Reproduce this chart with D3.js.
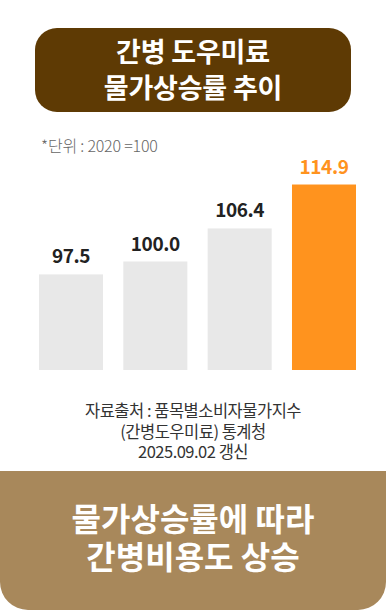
<!DOCTYPE html>
<html>
<head>
<meta charset="utf-8">
<script src="https://cdn.jsdelivr.net/npm/d3@7"></script>
<style>
  html, body { margin: 0; padding: 0; background: #fff; }
  svg { display: block; font-family: "Noto Sans CJK KR", "Noto Sans", sans-serif; }
</style>
</head>
<body>
<div id="chart"></div>
<script>
// data
const categories = ['2019', '2020', '2023', '2025']
const values = [97.5, 100.0, 106.4, 114.9]
const highlight = [false, false, false, true]

const titleLines = ['간병 도우미료', '물가상승률 추이']
const unitLabel = '*단위 : 2020 =100'
const sourceLines = ['자료출처 : 품목별소비자물가지수', '(간병도우미료) 통계청', '2025.09.02 갱신']
const footerLines = ['물가상승률에 따라', '간병비용도 상승']

const W = 386
const H = 610

const svg = d3.select('#chart')
  .append('svg')
  .attr('width', W)
  .attr('height', H)

// title box
svg.append('rect')
  .attr('x', 35)
  .attr('y', 28)
  .attr('width', 316)
  .attr('height', 84)
  .attr('rx', 22)
  .attr('fill', '#5e3a04')

svg.selectAll('.title')
  .data(titleLines)
  .enter()
  .append('text')
  .attr('class', 'title')
  .attr('x', 193)
  .attr('y', (d, i) => 62 + i * 36)
  .attr('text-anchor', 'middle')
  .attr('fill', '#fff')
  .style('font-size', '27px')
  .style('font-weight', 700)
  .style('letter-spacing', '-0.2px')
  .text(d => d)

svg.append('text')
  .attr('x', 41)
  .attr('y', 152)
  .attr('fill', '#666')
  .style('font-size', '16px')
  .style('font-weight', 300)
  .style('letter-spacing', '-0.2px')
  .text(unitLabel)

// bars
const x = d3.scaleBand()
  .domain(categories)
  .range([39, 356])
  .paddingInner(0.241)
  .paddingOuter(0)

const y = d3.scaleLinear()
  .domain([79, 115])
  .range([370, 184])

const bars = svg.append('g')

bars.selectAll('rect')
  .data(values)
  .enter()
  .append('rect')
  .attr('x', (d, i) => x(categories[i]))
  .attr('y', d => y(d))
  .attr('width', x.bandwidth())
  .attr('height', d => y.range()[0] - y(d))
  .attr('fill', (d, i) => highlight[i] ? '#ff931e' : '#e8e8e8')

bars.selectAll('text')
  .data(values)
  .enter()
  .append('text')
  .attr('x', (d, i) => x(categories[i]) + x.bandwidth() / 2)
  .attr('y', d => y(d) - 11)
  .attr('text-anchor', 'middle')
  .attr('fill', (d, i) => highlight[i] ? '#ff931e' : '#222')
  .style('font-size', '19px')
  .style('font-weight', 700)
  .style('letter-spacing', '-0.4px')
  .text(d => d3.format('.1f')(d))

// source
svg.selectAll('.source')
  .data(sourceLines)
  .enter()
  .append('text')
  .attr('class', 'source')
  .attr('x', 193)
  .attr('y', (d, i) => 417 + i * 20.5)
  .attr('text-anchor', 'middle')
  .attr('fill', '#333')
  .style('font-size', '16.5px')
  .style('letter-spacing', '-0.5px')
  .text(d => d)

// footer box, rounded only at the bottom
const fy = 471, fh = 139, r = 28
svg.append('path')
  .attr('d', `M0,${fy} H${W} V${fy + fh - r} A${r},${r} 0 0 1 ${W - r},${fy + fh} H${r} A${r},${r} 0 0 1 0,${fy + fh - r} Z`)
  .attr('fill', '#a8885b')

svg.selectAll('.footer')
  .data(footerLines)
  .enter()
  .append('text')
  .attr('class', 'footer')
  .attr('x', 193)
  .attr('y', (d, i) => 531 + i * 38)
  .attr('text-anchor', 'middle')
  .attr('fill', '#fff')
  .style('font-size', '32px')
  .style('font-weight', 700)
  .style('letter-spacing', '0px')
  .text(d => d)
</script>
</body>
</html>
